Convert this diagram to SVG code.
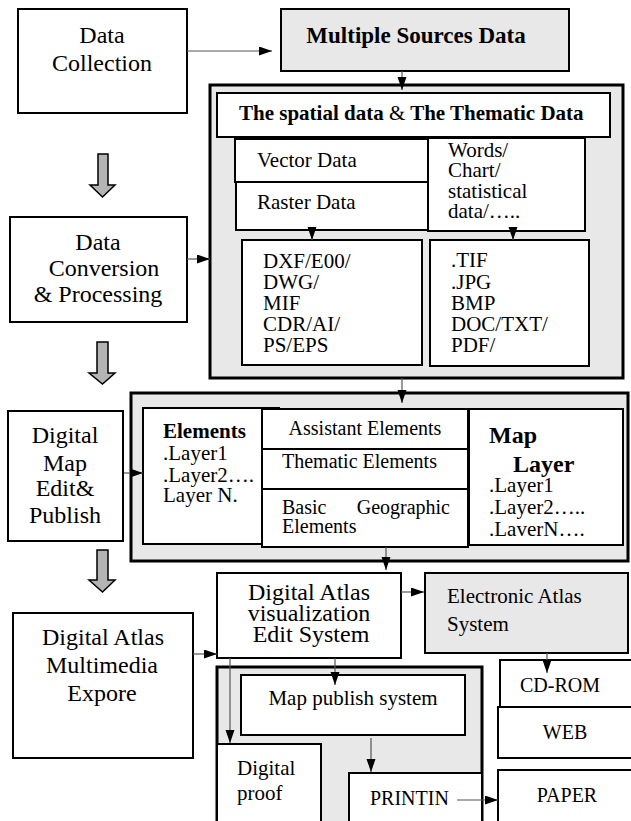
<svg xmlns="http://www.w3.org/2000/svg" width="631" height="821" viewBox="0 0 631 821">
<style>
text{font-family:"Liberation Serif","Times New Roman",serif;fill:#000;}
.box{fill:#fff;stroke:#000;stroke-width:2;}
.gbox{fill:#e8e8e8;stroke:#000;stroke-width:2;}
.cont{fill:#e8e8e8;stroke:#000;stroke-width:3;}
.blk{fill:#b4b4b4;stroke:#000;stroke-width:1.5;}
.c{text-anchor:middle;}
.e{text-anchor:end;}
.b{font-weight:bold;}
.f24{font-size:24px;}
.f21{font-size:21px;}
.f20{font-size:20px;}
.con{fill:none;stroke:#555;stroke-width:1.2;marker-end:url(#ah);}
</style>
<defs>
<marker id="ah" markerUnits="userSpaceOnUse" markerWidth="14" markerHeight="10" refX="13" refY="4.5" orient="auto">
<path d="M0,0 L13,4.5 L0,9 Z" fill="#000"/>
</marker>
</defs>
<rect width="631" height="821" fill="#fff"/>

<g id="data-collection">
<rect class="box" x="18" y="9" width="169" height="104"/>
<text class="f24 c" x="102" y="43">Data</text>
<text class="f24 c" x="102" y="71">Collection</text>
</g>

<g id="multiple-sources">
<rect class="gbox" x="281" y="9" width="288" height="62"/>
<text class="b c" font-size="23" x="416" y="43">Multiple Sources Data</text>
</g>

<g id="spatial-container">
<rect class="cont" x="210" y="85" width="413" height="293"/>
</g>

<g id="spatial-title">
<rect class="box" x="217" y="93" width="393" height="44"/>
<text class="f21" x="239" y="120"><tspan class="b">The spatial data </tspan>&amp;<tspan class="b"> The Thematic Data</tspan></text>
</g>

<g id="vector-data">
<rect class="box" x="235" y="139" width="193" height="43"/>
<text class="f21" x="257" y="167">Vector Data</text>
</g>

<g id="raster-data">
<rect class="box" x="236" y="182" width="192" height="48"/>
<text class="f21" x="257" y="209">Raster Data</text>
</g>

<g id="words-chart">
<rect class="box" x="428" y="138" width="157" height="93"/>
<text class="f21" x="448" y="157">Words/</text>
<text class="f21" x="448" y="177">Chart/</text>
<text class="f21" x="448" y="198">statistical</text>
<text class="f21" x="448" y="218">data/…..</text>
</g>

<g id="vector-formats">
<rect class="box" x="242" y="240" width="180" height="125"/>
<text class="f21" x="263" y="268">DXF/E00/</text>
<text class="f21" x="263" y="289">DWG/</text>
<text class="f21" x="263" y="310">MIF</text>
<text class="f21" x="263" y="331">CDR/AI/</text>
<text class="f21" x="263" y="352">PS/EPS</text>
</g>

<g id="raster-formats">
<rect class="box" x="430" y="240" width="159" height="126"/>
<text class="f21" x="451" y="267">.TIF</text>
<text class="f21" x="451" y="289">.JPG</text>
<text class="f21" x="451" y="310">BMP</text>
<text class="f21" x="451" y="331">DOC/TXT/</text>
<text class="f21" x="451" y="352">PDF/</text>
</g>

<g id="data-conversion">
<rect class="box" x="10" y="217" width="177" height="105"/>
<text class="f24 c" x="98" y="250">Data</text>
<text class="f24 c" x="104" y="276">Conversion</text>
<text class="f24 c" x="98" y="302">&amp; Processing</text>
</g>

<g id="block-arrows">
<path class="blk" d="M98,154 H108 V185 H115 L102.5,197 L90,185 H98 Z"/>
<path class="blk" d="M97,342 H108 V373 H115 L102.5,384 L89,373 H97 Z"/>
<path class="blk" d="M97,550 H108 V580 H115 L102.5,592 L89,580 H97 Z"/>
</g>

<g id="map-container">
<rect class="cont" x="131" y="393" width="497" height="168"/>
</g>

<g id="elements">
<rect class="box" x="143" y="408" width="136" height="136"/>
<text class="f21 b" x="163" y="438">Elements</text>
<text class="f21" x="163" y="460">.Layer1</text>
<text class="f21" x="163" y="482">.Layer2….</text>
<text class="f21" x="163" y="502">Layer N.</text>
</g>

<g id="assistant-elements">
<rect class="box" x="262" y="409" width="206" height="40"/>
<text class="f20 c" x="365" y="435">Assistant Elements</text>
</g>

<g id="thematic-elements">
<rect class="box" x="262" y="449" width="206" height="40"/>
<text class="f20" x="282" y="468">Thematic Elements</text>
</g>

<g id="basic-elements">
<rect class="box" x="262" y="489" width="206" height="58"/>
<text class="f20" x="282" y="514">Basic</text>
<text class="f20 e" x="450" y="514">Geographic</text>
<text class="f20" x="282" y="533">Elements</text>
</g>

<g id="map-layer">
<rect class="box" x="469" y="409" width="154" height="136"/>
<text class="b" font-size="24" x="489" y="443">Map</text>
<text class="b" font-size="24" x="513" y="472">Layer</text>
<text class="f21" x="489" y="492">.Layer1</text>
<text class="f21" x="489" y="514">.Layer2…..</text>
<text class="f21" x="489" y="536">.LaverN….</text>
</g>

<g id="digital-map">
<rect class="box" x="8" y="411" width="115" height="130"/>
<text class="f24 c" x="65" y="443">Digital</text>
<text class="f24 c" x="65" y="471">Map</text>
<text class="f24 c" x="65" y="496">Edit&amp;</text>
<text class="f24 c" x="65" y="523">Publish</text>
</g>

<g id="atlas-visualization">
<rect class="box" x="217" y="573" width="184" height="85"/>
<text class="f24 c" x="309" y="600">Digital Atlas</text>
<text class="f24 c" x="309" y="621">visualization</text>
<text class="f24 c" x="311" y="642">Edit System</text>
</g>

<g id="electronic-atlas">
<rect class="gbox" x="425" y="573" width="203" height="80"/>
<text class="f21" x="447" y="603">Electronic Atlas</text>
<text class="f21" x="447" y="631">System</text>
</g>

<g id="atlas-multimedia">
<rect class="box" x="13" y="613" width="180" height="145"/>
<text class="f24 c" x="103" y="645">Digital Atlas</text>
<text class="f24 c" x="102" y="673">Multimedia</text>
<text class="f24 c" x="102" y="701">Expore</text>
</g>

<g id="publish-container">
<rect class="cont" x="217" y="667" width="265" height="160"/>
</g>

<g id="map-publish">
<rect class="box" x="241" y="675" width="224" height="60"/>
<text class="f21 c" x="353" y="705">Map publish system</text>
</g>

<g id="digital-proof">
<rect class="box" x="217" y="744" width="104" height="82"/>
<text class="f21" x="237" y="775">Digital</text>
<text class="f21" x="237" y="800">proof</text>
</g>

<g id="printing">
<rect class="box" x="349" y="773" width="133" height="53"/>
<text class="f20" x="370" y="805">PRINTIN</text>
</g>

<g id="cd-rom">
<rect class="box" x="500" y="660" width="132" height="47"/>
<text class="f20" x="520" y="692">CD-ROM</text>
</g>

<g id="web">
<rect class="box" x="498" y="707" width="134" height="51"/>
<text class="f20 c" x="565" y="739">WEB</text>
</g>

<g id="paper">
<rect class="box" x="498" y="770" width="134" height="56"/>
<text class="f20 c" x="567" y="802">PAPER</text>
</g>

<g id="connectors">
<path class="con" d="M187,51 H272"/>
<path class="con" d="M402,71 V90"/>
<path class="con" d="M187,259 H210"/>
<path class="con" d="M312,230 V240"/>
<path class="con" d="M513,231 V240"/>
<path class="con" d="M402,378 V403"/>
<path class="con" d="M124,473 H143"/>
<path class="con" d="M386,547 V570"/>
<path class="con" d="M401,592 H424"/>
<path class="con" d="M193,654 H217"/>
<path class="con" d="M335,658 V685"/>
<path class="con" d="M230,658 V743"/>
<path class="con" d="M547,653 V673"/>
<path class="con" d="M371,738 V772"/>
<path class="con" d="M457,800 H498"/>
</g>
</svg>
